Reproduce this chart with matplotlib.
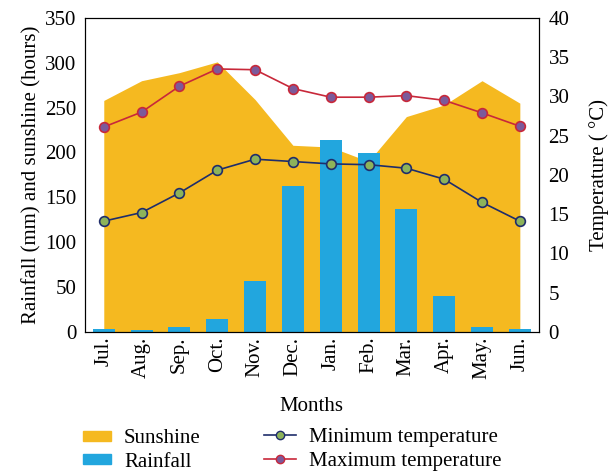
import matplotlib.pyplot as plt
import matplotlib
import numpy as np
from matplotlib.lines import Line2D
from matplotlib.patches import Patch

plt.rcParams['font.family'] = ['Liberation Serif', 'DejaVu Serif']

months = ["Jul.", "Aug.", "Sep.", "Oct.", "Nov.", "Dec.", "Jan.", "Feb.", "Mar.", "Apr.", "May.", "Jun."]
sunshine = [258, 280, 289, 301, 259, 208, 206, 190, 240, 253, 280, 255]
rainfall = [3, 2, 5.5, 14, 57, 163, 214, 199, 137, 40, 5, 3]
t_min = [14.1, 15.2, 17.7, 20.6, 22.0, 21.7, 21.4, 21.3, 20.85, 19.45, 16.5, 14.1]
t_max = [26.1, 28.0, 31.3, 33.5, 33.4, 31.0, 29.9, 29.9, 30.1, 29.5, 27.9, 26.2]

c_sun = '#F5B920'
c_rain = '#22A6DE'
fs = 15

x = np.arange(len(months))

fig = plt.figure(figsize=(6.15, 4.72), dpi=100)
ax = fig.add_axes([0.138, 0.297, 0.738, 0.665])
ax.fill_between(x, 0, sunshine, color=c_sun, lw=0, zorder=1)
ax.bar(x, rainfall, width=0.58, color=c_rain, zorder=2)
ax.set_xlim(-0.5, 11.5)
ax.set_ylim(0, 350)
ax.set_yticks(range(0, 351, 50))
ax.set_xticks(x)
ax.set_xticklabels(months, rotation=90, fontsize=fs)
ax.tick_params(axis='both', length=0, labelsize=fs)
ax.tick_params(axis='y', pad=6)
ax.set_ylabel("Rainfall (mm) and sunshine (hours)", fontsize=fs, labelpad=3)
ax.set_xlabel("Months", fontsize=fs, labelpad=13)

ax2 = ax.twinx()
ax2.plot(x, t_min, color='#1F2D6B', lw=1.2, marker='o', ms=7,
         mfc='#8DB35A', mec='#1F2D6B', mew=1.2, zorder=3)
ax2.plot(x, t_max, color='#C8283A', lw=1.2, marker='o', ms=7,
         mfc='#7B5A9B', mec='#C8283A', mew=1.2, zorder=3)
ax2.set_ylim(0, 40)
ax2.set_yticks(range(0, 41, 5))
ax2.tick_params(axis='y', length=0, labelsize=fs, pad=7)
ax2.set_ylabel("Temperature ( °C)", fontsize=fs, labelpad=14)

h1 = [Patch(color=c_sun), Patch(color=c_rain)]
fig.legend(h1, ["Sunshine", "Rainfall"], loc='upper left', bbox_to_anchor=(0.122, 0.108),
           frameon=False, fontsize=fs, handlelength=1.35, handleheight=0.35,
           handletextpad=0.6, labelspacing=0.2, borderaxespad=0)
h2 = [Line2D([], [], color='#1F2D6B', lw=1.2, marker='o', ms=6, mfc='#8DB35A', mec='#1F2D6B'),
      Line2D([], [], color='#C8283A', lw=1.2, marker='o', ms=6, mfc='#7B5A9B', mec='#C8283A')]
fig.legend(h2, ["Minimum temperature", "Maximum temperature"], loc='upper left',
           bbox_to_anchor=(0.416, 0.112), frameon=False, fontsize=fs, handlelength=1.55,
           handletextpad=0.6, labelspacing=0.2, borderaxespad=0)

fig.savefig("out.png", dpi=100)
